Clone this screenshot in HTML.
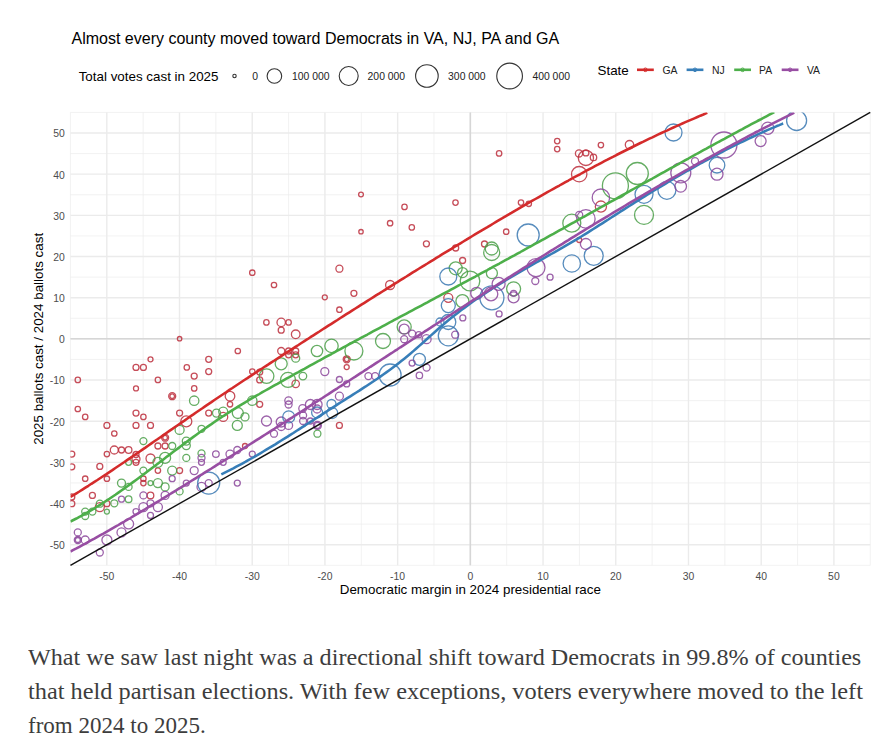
<!DOCTYPE html>
<html><head><meta charset="utf-8"><style>
html,body{margin:0;padding:0;background:#fff;}
body{width:894px;height:750px;overflow:hidden;position:relative;}
svg{position:absolute;left:0;top:0;}
.body{position:absolute;left:28px;top:640px;font-family:"Liberation Serif",serif;color:#3d3d3d;font-size:24px;}
.ln{position:absolute;left:0;white-space:nowrap;transform-origin:0 0;}
</style></head><body>
<svg width="894" height="620" viewBox="0 0 894 620" font-family="Liberation Sans, sans-serif">
<defs><clipPath id="pc"><rect x="70.45" y="112.42" width="799.81" height="452.87"/></clipPath></defs><rect width="894" height="620" fill="#fff"/>
<g><line x1="70.45" y1="112.42" x2="70.45" y2="565.29" stroke="#EDEDED" stroke-width="0.7"/><line x1="70.45" y1="565.29" x2="870.25" y2="565.29" stroke="#EDEDED" stroke-width="0.7"/><line x1="143.16" y1="112.42" x2="143.16" y2="565.29" stroke="#EDEDED" stroke-width="0.7"/><line x1="70.45" y1="524.12" x2="870.25" y2="524.12" stroke="#EDEDED" stroke-width="0.7"/><line x1="215.87" y1="112.42" x2="215.87" y2="565.29" stroke="#EDEDED" stroke-width="0.7"/><line x1="70.45" y1="482.95" x2="870.25" y2="482.95" stroke="#EDEDED" stroke-width="0.7"/><line x1="288.58" y1="112.42" x2="288.58" y2="565.29" stroke="#EDEDED" stroke-width="0.7"/><line x1="70.45" y1="441.78" x2="870.25" y2="441.78" stroke="#EDEDED" stroke-width="0.7"/><line x1="361.29" y1="112.42" x2="361.29" y2="565.29" stroke="#EDEDED" stroke-width="0.7"/><line x1="70.45" y1="400.61" x2="870.25" y2="400.61" stroke="#EDEDED" stroke-width="0.7"/><line x1="434.00" y1="112.42" x2="434.00" y2="565.29" stroke="#EDEDED" stroke-width="0.7"/><line x1="70.45" y1="359.44" x2="870.25" y2="359.44" stroke="#EDEDED" stroke-width="0.7"/><line x1="506.71" y1="112.42" x2="506.71" y2="565.29" stroke="#EDEDED" stroke-width="0.7"/><line x1="70.45" y1="318.27" x2="870.25" y2="318.27" stroke="#EDEDED" stroke-width="0.7"/><line x1="579.41" y1="112.42" x2="579.41" y2="565.29" stroke="#EDEDED" stroke-width="0.7"/><line x1="70.45" y1="277.10" x2="870.25" y2="277.10" stroke="#EDEDED" stroke-width="0.7"/><line x1="652.12" y1="112.42" x2="652.12" y2="565.29" stroke="#EDEDED" stroke-width="0.7"/><line x1="70.45" y1="235.93" x2="870.25" y2="235.93" stroke="#EDEDED" stroke-width="0.7"/><line x1="724.84" y1="112.42" x2="724.84" y2="565.29" stroke="#EDEDED" stroke-width="0.7"/><line x1="70.45" y1="194.76" x2="870.25" y2="194.76" stroke="#EDEDED" stroke-width="0.7"/><line x1="797.55" y1="112.42" x2="797.55" y2="565.29" stroke="#EDEDED" stroke-width="0.7"/><line x1="70.45" y1="153.59" x2="870.25" y2="153.59" stroke="#EDEDED" stroke-width="0.7"/><line x1="870.25" y1="112.42" x2="870.25" y2="565.29" stroke="#EDEDED" stroke-width="0.7"/><line x1="70.45" y1="112.42" x2="870.25" y2="112.42" stroke="#EDEDED" stroke-width="0.7"/><line x1="106.80" y1="112.42" x2="106.80" y2="565.29" stroke="#EBEBEB" stroke-width="1.4"/><line x1="70.45" y1="544.70" x2="870.25" y2="544.70" stroke="#EBEBEB" stroke-width="1.4"/><line x1="179.51" y1="112.42" x2="179.51" y2="565.29" stroke="#EBEBEB" stroke-width="1.4"/><line x1="70.45" y1="503.53" x2="870.25" y2="503.53" stroke="#EBEBEB" stroke-width="1.4"/><line x1="252.22" y1="112.42" x2="252.22" y2="565.29" stroke="#EBEBEB" stroke-width="1.4"/><line x1="70.45" y1="462.36" x2="870.25" y2="462.36" stroke="#EBEBEB" stroke-width="1.4"/><line x1="324.93" y1="112.42" x2="324.93" y2="565.29" stroke="#EBEBEB" stroke-width="1.4"/><line x1="70.45" y1="421.19" x2="870.25" y2="421.19" stroke="#EBEBEB" stroke-width="1.4"/><line x1="397.64" y1="112.42" x2="397.64" y2="565.29" stroke="#EBEBEB" stroke-width="1.4"/><line x1="70.45" y1="380.02" x2="870.25" y2="380.02" stroke="#EBEBEB" stroke-width="1.4"/><line x1="470.35" y1="112.42" x2="470.35" y2="565.29" stroke="#EBEBEB" stroke-width="1.4"/><line x1="70.45" y1="338.85" x2="870.25" y2="338.85" stroke="#EBEBEB" stroke-width="1.4"/><line x1="543.06" y1="112.42" x2="543.06" y2="565.29" stroke="#EBEBEB" stroke-width="1.4"/><line x1="70.45" y1="297.68" x2="870.25" y2="297.68" stroke="#EBEBEB" stroke-width="1.4"/><line x1="615.77" y1="112.42" x2="615.77" y2="565.29" stroke="#EBEBEB" stroke-width="1.4"/><line x1="70.45" y1="256.51" x2="870.25" y2="256.51" stroke="#EBEBEB" stroke-width="1.4"/><line x1="688.48" y1="112.42" x2="688.48" y2="565.29" stroke="#EBEBEB" stroke-width="1.4"/><line x1="70.45" y1="215.34" x2="870.25" y2="215.34" stroke="#EBEBEB" stroke-width="1.4"/><line x1="761.19" y1="112.42" x2="761.19" y2="565.29" stroke="#EBEBEB" stroke-width="1.4"/><line x1="70.45" y1="174.17" x2="870.25" y2="174.17" stroke="#EBEBEB" stroke-width="1.4"/><line x1="833.90" y1="112.42" x2="833.90" y2="565.29" stroke="#EBEBEB" stroke-width="1.4"/><line x1="70.45" y1="133.00" x2="870.25" y2="133.00" stroke="#EBEBEB" stroke-width="1.4"/><line x1="470.35" y1="112.42" x2="470.35" y2="565.29" stroke="#D6D6D6" stroke-width="1.5"/><line x1="70.45" y1="338.85" x2="870.25" y2="338.85" stroke="#D6D6D6" stroke-width="1.5"/><g clip-path="url(#pc)" fill="none" stroke-opacity="0.85" stroke-width="1.3"><circle cx="361.0" cy="194.5" r="2.4" stroke="#BC2E3C"/><circle cx="404.5" cy="206.9" r="2.7" stroke="#BC2E3C"/><circle cx="455.5" cy="202.6" r="2.7" stroke="#BC2E3C"/><circle cx="390.1" cy="223.2" r="2.7" stroke="#BC2E3C"/><circle cx="411.8" cy="227.4" r="2.7" stroke="#BC2E3C"/><circle cx="361.0" cy="231.7" r="2.2" stroke="#BC2E3C"/><circle cx="426.4" cy="243.8" r="3" stroke="#BC2E3C"/><circle cx="455.7" cy="248.0" r="3" stroke="#BC2E3C"/><circle cx="462.6" cy="260.5" r="3" stroke="#BC2E3C"/><circle cx="499.1" cy="153.4" r="2.7" stroke="#BC2E3C"/><circle cx="557.2" cy="141.1" r="2.7" stroke="#BC2E3C"/><circle cx="557.2" cy="149.1" r="2.7" stroke="#BC2E3C"/><circle cx="600.9" cy="145.1" r="2.7" stroke="#BC2E3C"/><circle cx="629.5" cy="144.7" r="4.2" stroke="#BC2E3C"/><circle cx="579.0" cy="153.4" r="3.6" stroke="#BC2E3C"/><circle cx="585.9" cy="152.9" r="3" stroke="#BC2E3C"/><circle cx="585.9" cy="157.9" r="7.6" stroke="#BC2E3C"/><circle cx="593.5" cy="157.4" r="3.2" stroke="#BC2E3C"/><circle cx="579.2" cy="174.2" r="7.7" stroke="#BC2E3C"/><circle cx="521.0" cy="202.6" r="2.7" stroke="#BC2E3C"/><circle cx="528.8" cy="203.8" r="2.7" stroke="#BC2E3C"/><circle cx="506.2" cy="231.7" r="2.7" stroke="#BC2E3C"/><circle cx="484.5" cy="244.0" r="3" stroke="#BC2E3C"/><circle cx="600.9" cy="206.6" r="5.6" stroke="#BC2E3C"/><circle cx="579.2" cy="240.0" r="2.5" stroke="#BC2E3C"/><circle cx="615.4" cy="185.8" r="13" stroke="#4A9F48"/><circle cx="637.3" cy="173.5" r="11" stroke="#4A9F48"/><circle cx="571.8" cy="223.2" r="9" stroke="#4A9F48"/><circle cx="644.0" cy="214.9" r="9.5" stroke="#4A9F48"/><circle cx="491.7" cy="248.5" r="6.5" stroke="#4A9F48"/><circle cx="491.7" cy="252.5" r="8" stroke="#4A9F48"/><circle cx="528.2" cy="235.0" r="11" stroke="#3A78B2"/><circle cx="644.0" cy="194.3" r="9" stroke="#3A78B2"/><circle cx="666.9" cy="190.3" r="9" stroke="#3A78B2"/><circle cx="593.7" cy="255.8" r="9.5" stroke="#3A78B2"/><circle cx="571.8" cy="263.5" r="8.7" stroke="#3A78B2"/><circle cx="673.5" cy="132.5" r="8.5" stroke="#3A78B2"/><circle cx="600.9" cy="197.7" r="8.7" stroke="#8B479B"/><circle cx="585.9" cy="218.9" r="9.2" stroke="#8B479B"/><circle cx="579.2" cy="214.9" r="3.5" stroke="#8B479B"/><circle cx="585.9" cy="244.0" r="5.5" stroke="#8B479B"/><circle cx="536.0" cy="267.6" r="9" stroke="#8B479B"/><circle cx="796.6" cy="120.5" r="10" stroke="#3A78B2"/><circle cx="717.0" cy="165.2" r="7.8" stroke="#3A78B2"/><circle cx="723.9" cy="145.0" r="13" stroke="#8B479B"/><circle cx="767.8" cy="128.2" r="6.1" stroke="#8B479B"/><circle cx="760.6" cy="141.1" r="5.5" stroke="#8B479B"/><circle cx="695.0" cy="161.2" r="3.5" stroke="#8B479B"/><circle cx="680.8" cy="172.8" r="10" stroke="#8B479B"/><circle cx="680.7" cy="186.3" r="5.8" stroke="#8B479B"/><circle cx="717.0" cy="174.2" r="6" stroke="#8B479B"/><circle cx="252.3" cy="272.7" r="2.7" stroke="#BC2E3C"/><circle cx="266.4" cy="322.4" r="2.7" stroke="#BC2E3C"/><circle cx="179.6" cy="338.7" r="2.2" stroke="#BC2E3C"/><circle cx="237.8" cy="351.0" r="2.7" stroke="#BC2E3C"/><circle cx="150.5" cy="359.3" r="2.5" stroke="#BC2E3C"/><circle cx="208.7" cy="359.3" r="3" stroke="#BC2E3C"/><circle cx="136.0" cy="367.4" r="3" stroke="#BC2E3C"/><circle cx="143.4" cy="367.4" r="3" stroke="#BC2E3C"/><circle cx="186.8" cy="367.4" r="2.7" stroke="#BC2E3C"/><circle cx="208.7" cy="371.6" r="3" stroke="#BC2E3C"/><circle cx="77.8" cy="379.9" r="2.7" stroke="#BC2E3C"/><circle cx="157.9" cy="379.9" r="2.7" stroke="#BC2E3C"/><circle cx="194.2" cy="376.1" r="3" stroke="#BC2E3C"/><circle cx="136.0" cy="388.4" r="2.5" stroke="#BC2E3C"/><circle cx="194.2" cy="388.4" r="2.7" stroke="#BC2E3C"/><circle cx="172.2" cy="396.2" r="3.5" stroke="#BC2E3C"/><circle cx="172.2" cy="396.2" r="2.3" stroke="#BC2E3C"/><circle cx="77.8" cy="409.0" r="2.7" stroke="#BC2E3C"/><circle cx="230.0" cy="396.2" r="4.8" stroke="#BC2E3C"/><circle cx="230.0" cy="404.3" r="2.7" stroke="#BC2E3C"/><circle cx="252.3" cy="371.6" r="2.7" stroke="#BC2E3C"/><circle cx="259.7" cy="372.1" r="3" stroke="#BC2E3C"/><circle cx="259.7" cy="379.9" r="3" stroke="#BC2E3C"/><circle cx="259.7" cy="404.3" r="3" stroke="#BC2E3C"/><circle cx="194.2" cy="400.7" r="4.7" stroke="#4A9F48"/><circle cx="252.3" cy="400.7" r="4.7" stroke="#4A9F48"/><circle cx="266.6" cy="376.1" r="7.3" stroke="#4A9F48"/><circle cx="339.4" cy="268.7" r="3.5" stroke="#BC2E3C"/><circle cx="274.0" cy="285.0" r="2.7" stroke="#BC2E3C"/><circle cx="390.1" cy="285.0" r="4.5" stroke="#BC2E3C"/><circle cx="324.8" cy="297.3" r="2.5" stroke="#BC2E3C"/><circle cx="353.9" cy="293.3" r="3" stroke="#BC2E3C"/><circle cx="339.4" cy="309.7" r="2.7" stroke="#BC2E3C"/><circle cx="281.2" cy="322.4" r="4.2" stroke="#BC2E3C"/><circle cx="288.6" cy="322.4" r="2.7" stroke="#BC2E3C"/><circle cx="281.2" cy="330.2" r="3" stroke="#BC2E3C"/><circle cx="295.7" cy="334.3" r="4.3" stroke="#BC2E3C"/><circle cx="281.2" cy="351.0" r="3.5" stroke="#BC2E3C"/><circle cx="288.6" cy="354.8" r="3" stroke="#BC2E3C"/><circle cx="295.7" cy="351.0" r="3" stroke="#BC2E3C"/><circle cx="288.6" cy="351.0" r="3" stroke="#BC2E3C"/><circle cx="295.7" cy="354.8" r="3" stroke="#BC2E3C"/><circle cx="346.7" cy="359.3" r="3.5" stroke="#BC2E3C"/><circle cx="346.7" cy="359.3" r="2.3" stroke="#BC2E3C"/><circle cx="346.7" cy="367.1" r="2.5" stroke="#BC2E3C"/><circle cx="295.7" cy="383.9" r="3.7" stroke="#BC2E3C"/><circle cx="448.3" cy="297.8" r="4.5" stroke="#BC2E3C"/><circle cx="281.2" cy="363.8" r="6" stroke="#4A9F48"/><circle cx="295.7" cy="358.2" r="4" stroke="#4A9F48"/><circle cx="317.0" cy="351.0" r="5.7" stroke="#4A9F48"/><circle cx="331.5" cy="345.9" r="6.7" stroke="#4A9F48"/><circle cx="353.9" cy="351.0" r="9" stroke="#4A9F48"/><circle cx="383.0" cy="341.0" r="7.5" stroke="#4A9F48"/><circle cx="404.2" cy="326.9" r="7" stroke="#4A9F48"/><circle cx="288.0" cy="379.9" r="7.5" stroke="#4A9F48"/><circle cx="302.9" cy="376.1" r="3.8" stroke="#4A9F48"/><circle cx="455.7" cy="268.3" r="6.5" stroke="#4A9F48"/><circle cx="462.6" cy="272.6" r="5" stroke="#4A9F48"/><circle cx="470.0" cy="281.0" r="9.8" stroke="#4A9F48"/><circle cx="462.4" cy="301.1" r="6.5" stroke="#4A9F48"/><circle cx="448.3" cy="276.5" r="8.5" stroke="#3A78B2"/><circle cx="448.3" cy="305.6" r="7" stroke="#3A78B2"/><circle cx="448.3" cy="322.0" r="7.5" stroke="#3A78B2"/><circle cx="448.3" cy="335.8" r="10" stroke="#3A78B2"/><circle cx="440.0" cy="322.0" r="4" stroke="#3A78B2"/><circle cx="419.4" cy="359.3" r="6" stroke="#3A78B2"/><circle cx="390.1" cy="375.0" r="11" stroke="#3A78B2"/><circle cx="331.5" cy="404.0" r="4.5" stroke="#3A78B2"/><circle cx="404.2" cy="329.1" r="5" stroke="#8B479B"/><circle cx="404.2" cy="339.2" r="3.5" stroke="#8B479B"/><circle cx="412.1" cy="333.6" r="3.5" stroke="#8B479B"/><circle cx="418.8" cy="334.7" r="3" stroke="#8B479B"/><circle cx="426.6" cy="339.2" r="4.5" stroke="#8B479B"/><circle cx="455.2" cy="334.7" r="3.5" stroke="#8B479B"/><circle cx="462.8" cy="317.9" r="3" stroke="#8B479B"/><circle cx="412.1" cy="363.1" r="3" stroke="#8B479B"/><circle cx="426.6" cy="367.6" r="3.5" stroke="#8B479B"/><circle cx="419.4" cy="375.4" r="3.2" stroke="#8B479B"/><circle cx="368.4" cy="376.1" r="3.5" stroke="#8B479B"/><circle cx="375.1" cy="376.1" r="3.5" stroke="#8B479B"/><circle cx="324.8" cy="371.6" r="4" stroke="#8B479B"/><circle cx="339.4" cy="379.5" r="3" stroke="#8B479B"/><circle cx="346.7" cy="383.9" r="3" stroke="#8B479B"/><circle cx="339.4" cy="396.2" r="4" stroke="#8B479B"/><circle cx="288.6" cy="400.6" r="3.8" stroke="#8B479B"/><circle cx="288.6" cy="404.5" r="3.5" stroke="#8B479B"/><circle cx="310.4" cy="404.5" r="5" stroke="#8B479B"/><circle cx="302.6" cy="408.5" r="3.8" stroke="#8B479B"/><circle cx="317.1" cy="409.0" r="4" stroke="#8B479B"/><circle cx="317.1" cy="404.5" r="5" stroke="#8B479B"/><circle cx="491.9" cy="297.8" r="12" stroke="#3A78B2"/><circle cx="491.9" cy="273.2" r="5.5" stroke="#4A9F48"/><circle cx="513.6" cy="288.8" r="7" stroke="#4A9F48"/><circle cx="535.3" cy="281.0" r="3.5" stroke="#8B479B"/><circle cx="550.1" cy="277.2" r="3" stroke="#8B479B"/><circle cx="498.6" cy="283.9" r="6.5" stroke="#8B479B"/><circle cx="491.0" cy="294.0" r="6.8" stroke="#8B479B"/><circle cx="513.6" cy="297.3" r="5.5" stroke="#8B479B"/><circle cx="513.6" cy="293.3" r="3" stroke="#8B479B"/><circle cx="499.1" cy="313.9" r="3" stroke="#8B479B"/><circle cx="476.7" cy="293.3" r="6" stroke="#8B479B"/><circle cx="85.2" cy="416.9" r="2.7" stroke="#BC2E3C"/><circle cx="106.9" cy="425.4" r="3" stroke="#BC2E3C"/><circle cx="114.3" cy="433.5" r="2.7" stroke="#BC2E3C"/><circle cx="136.0" cy="425.4" r="3" stroke="#BC2E3C"/><circle cx="150.5" cy="425.4" r="3" stroke="#BC2E3C"/><circle cx="136.0" cy="413.1" r="3" stroke="#BC2E3C"/><circle cx="143.4" cy="416.9" r="2.7" stroke="#BC2E3C"/><circle cx="179.6" cy="413.1" r="3" stroke="#BC2E3C"/><circle cx="208.7" cy="413.1" r="3" stroke="#BC2E3C"/><circle cx="186.3" cy="421.4" r="5.5" stroke="#BC2E3C"/><circle cx="223.2" cy="416.9" r="4.5" stroke="#BC2E3C"/><circle cx="165.1" cy="437.7" r="3.5" stroke="#BC2E3C"/><circle cx="165.1" cy="437.7" r="2.3" stroke="#BC2E3C"/><circle cx="157.9" cy="446.0" r="3" stroke="#BC2E3C"/><circle cx="165.1" cy="446.0" r="3" stroke="#BC2E3C"/><circle cx="106.9" cy="454.1" r="2.7" stroke="#BC2E3C"/><circle cx="114.3" cy="450.0" r="4" stroke="#BC2E3C"/><circle cx="121.5" cy="450.0" r="3" stroke="#BC2E3C"/><circle cx="128.6" cy="450.0" r="3.3" stroke="#BC2E3C"/><circle cx="136.0" cy="454.5" r="3" stroke="#BC2E3C"/><circle cx="136.0" cy="459.0" r="4" stroke="#BC2E3C"/><circle cx="136.0" cy="462.3" r="3" stroke="#BC2E3C"/><circle cx="150.5" cy="458.5" r="4.5" stroke="#BC2E3C"/><circle cx="71.8" cy="454.1" r="3" stroke="#BC2E3C"/><circle cx="71.8" cy="466.8" r="3" stroke="#BC2E3C"/><circle cx="99.8" cy="466.4" r="3" stroke="#BC2E3C"/><circle cx="85.2" cy="478.7" r="2.7" stroke="#BC2E3C"/><circle cx="106.9" cy="478.7" r="2.7" stroke="#BC2E3C"/><circle cx="157.9" cy="470.6" r="2.7" stroke="#BC2E3C"/><circle cx="179.6" cy="470.6" r="3" stroke="#BC2E3C"/><circle cx="143.4" cy="478.7" r="2.7" stroke="#BC2E3C"/><circle cx="143.4" cy="483.1" r="2.7" stroke="#BC2E3C"/><circle cx="92.4" cy="495.4" r="3" stroke="#BC2E3C"/><circle cx="71.8" cy="497.0" r="3" stroke="#BC2E3C"/><circle cx="71.8" cy="503.7" r="3" stroke="#BC2E3C"/><circle cx="106.9" cy="503.7" r="3" stroke="#BC2E3C"/><circle cx="99.8" cy="507.1" r="4.5" stroke="#BC2E3C"/><circle cx="150.5" cy="495.4" r="3.3" stroke="#BC2E3C"/><circle cx="245.0" cy="446.0" r="2.5" stroke="#BC2E3C"/><circle cx="143.4" cy="441.1" r="3.5" stroke="#4A9F48"/><circle cx="172.2" cy="446.0" r="3.5" stroke="#4A9F48"/><circle cx="179.6" cy="429.9" r="4.5" stroke="#4A9F48"/><circle cx="186.3" cy="441.1" r="4" stroke="#4A9F48"/><circle cx="186.3" cy="445.6" r="4" stroke="#4A9F48"/><circle cx="201.5" cy="428.8" r="3.5" stroke="#4A9F48"/><circle cx="216.5" cy="413.1" r="4" stroke="#4A9F48"/><circle cx="223.2" cy="411.6" r="4.5" stroke="#4A9F48"/><circle cx="237.8" cy="413.0" r="5.5" stroke="#4A9F48"/><circle cx="237.3" cy="425.4" r="5" stroke="#4A9F48"/><circle cx="245.0" cy="416.9" r="4" stroke="#4A9F48"/><circle cx="128.6" cy="462.3" r="3" stroke="#4A9F48"/><circle cx="157.9" cy="462.3" r="5" stroke="#4A9F48"/><circle cx="165.1" cy="457.9" r="5.5" stroke="#4A9F48"/><circle cx="143.4" cy="470.6" r="3.5" stroke="#4A9F48"/><circle cx="172.2" cy="470.6" r="4.5" stroke="#4A9F48"/><circle cx="186.3" cy="457.9" r="3.5" stroke="#4A9F48"/><circle cx="201.5" cy="453.4" r="3.5" stroke="#4A9F48"/><circle cx="121.5" cy="483.1" r="4" stroke="#4A9F48"/><circle cx="128.6" cy="486.9" r="3.5" stroke="#4A9F48"/><circle cx="157.9" cy="483.1" r="4.5" stroke="#4A9F48"/><circle cx="165.1" cy="486.9" r="4" stroke="#4A9F48"/><circle cx="150.5" cy="483.1" r="2.5" stroke="#4A9F48"/><circle cx="179.6" cy="491.4" r="3.5" stroke="#4A9F48"/><circle cx="128.6" cy="499.2" r="3.3" stroke="#4A9F48"/><circle cx="114.3" cy="503.3" r="3.5" stroke="#4A9F48"/><circle cx="99.8" cy="503.7" r="3.5" stroke="#4A9F48"/><circle cx="85.2" cy="511.6" r="3.5" stroke="#4A9F48"/><circle cx="85.2" cy="516.0" r="3.5" stroke="#4A9F48"/><circle cx="92.4" cy="511.6" r="3.5" stroke="#4A9F48"/><circle cx="106.9" cy="511.6" r="2.5" stroke="#4A9F48"/><circle cx="266.5" cy="421.0" r="5" stroke="#8B479B"/><circle cx="215.9" cy="454.1" r="3.3" stroke="#8B479B"/><circle cx="230.0" cy="454.1" r="4" stroke="#8B479B"/><circle cx="237.3" cy="450.0" r="3.5" stroke="#8B479B"/><circle cx="252.3" cy="454.1" r="3" stroke="#8B479B"/><circle cx="201.5" cy="457.9" r="3.5" stroke="#8B479B"/><circle cx="201.5" cy="462.3" r="3" stroke="#8B479B"/><circle cx="223.2" cy="462.3" r="3" stroke="#8B479B"/><circle cx="194.2" cy="470.6" r="4" stroke="#8B479B"/><circle cx="172.2" cy="478.7" r="3" stroke="#8B479B"/><circle cx="186.3" cy="483.1" r="3" stroke="#8B479B"/><circle cx="201.5" cy="486.9" r="4.5" stroke="#8B479B"/><circle cx="208.7" cy="483.1" r="3.5" stroke="#8B479B"/><circle cx="237.3" cy="483.1" r="3" stroke="#8B479B"/><circle cx="165.1" cy="495.4" r="4" stroke="#8B479B"/><circle cx="143.4" cy="495.4" r="3.5" stroke="#8B479B"/><circle cx="121.5" cy="499.2" r="3" stroke="#8B479B"/><circle cx="143.4" cy="507.1" r="4.5" stroke="#8B479B"/><circle cx="150.5" cy="503.3" r="3.5" stroke="#8B479B"/><circle cx="157.9" cy="507.1" r="4.5" stroke="#8B479B"/><circle cx="136.0" cy="511.6" r="3" stroke="#8B479B"/><circle cx="150.5" cy="515.4" r="3" stroke="#8B479B"/><circle cx="128.6" cy="523.9" r="5" stroke="#8B479B"/><circle cx="121.5" cy="532.4" r="4.5" stroke="#8B479B"/><circle cx="106.9" cy="540.0" r="5" stroke="#8B479B"/><circle cx="77.8" cy="532.4" r="3.5" stroke="#8B479B"/><circle cx="77.8" cy="540.0" r="3.5" stroke="#8B479B"/><circle cx="77.8" cy="540.0" r="2.5" stroke="#8B479B"/><circle cx="85.2" cy="540.0" r="4" stroke="#8B479B"/><circle cx="99.8" cy="552.5" r="3.5" stroke="#8B479B"/><circle cx="208.7" cy="483.1" r="11" stroke="#3A78B2"/><circle cx="339.4" cy="425.4" r="3" stroke="#BC2E3C"/><circle cx="317.4" cy="433.7" r="3.5" stroke="#4A9F48"/><circle cx="317.4" cy="425.4" r="4" stroke="#8B479B"/><circle cx="317.4" cy="425.4" r="3" stroke="#8B479B"/><circle cx="274.0" cy="433.7" r="3.5" stroke="#8B479B"/><circle cx="281.2" cy="422.0" r="5" stroke="#8B479B"/><circle cx="288.6" cy="425.4" r="4" stroke="#8B479B"/><circle cx="281.2" cy="426.5" r="4" stroke="#8B479B"/><circle cx="288.7" cy="416.9" r="6" stroke="#3A78B2"/><circle cx="303.1" cy="421.0" r="3.5" stroke="#8B479B"/><circle cx="310.3" cy="421.0" r="3" stroke="#8B479B"/><circle cx="332.2" cy="413.0" r="5.5" stroke="#3A78B2"/><circle cx="303.1" cy="415.4" r="3.5" stroke="#8B479B"/><circle cx="317.1" cy="412.5" r="5.5" stroke="#3A78B2"/></g><line x1="70.45" y1="565.29" x2="870.25" y2="112.42" stroke="#111" stroke-width="1.4"/><path d="M70.4,497.0 L73.4,495.2 L76.4,493.3 L79.4,491.5 L82.4,489.6 L85.4,487.7 L88.4,485.8 L91.4,483.8 L94.4,481.9 L97.4,480.0 L100.4,478.0 L103.4,476.0 L106.4,474.1 L109.4,472.1 L112.4,470.1 L115.4,468.0 L118.4,466.0 L121.4,464.0 L124.4,462.0 L127.4,459.9 L130.4,457.9 L133.4,455.8 L136.4,453.8 L139.4,451.7 L142.4,449.6 L145.4,447.6 L148.4,445.5 L151.4,443.4 L154.4,441.3 L157.4,439.3 L160.4,437.2 L163.4,435.1 L166.4,433.0 L169.4,430.9 L172.4,428.9 L175.4,426.8 L178.4,424.7 L181.4,422.6 L184.4,420.6 L187.4,418.5 L190.4,416.4 L193.4,414.4 L196.4,412.3 L199.4,410.2 L202.4,408.2 L205.4,406.1 L208.4,404.1 L211.4,402.1 L214.4,400.0 L217.4,398.0 L220.4,396.0 L223.4,394.0 L226.4,392.0 L229.4,389.9 L232.4,388.0 L235.4,386.0 L238.4,384.0 L241.4,382.0 L244.4,380.0 L247.4,378.1 L250.4,376.1 L253.4,374.1 L256.4,372.2 L259.4,370.2 L262.4,368.3 L265.4,366.3 L268.4,364.4 L271.4,362.4 L274.4,360.5 L277.4,358.5 L280.4,356.6 L283.4,354.6 L286.4,352.7 L289.4,350.8 L292.4,348.8 L295.4,346.9 L298.4,345.0 L301.4,343.0 L304.4,341.1 L307.4,339.2 L310.4,337.2 L313.4,335.3 L316.4,333.4 L319.4,331.5 L322.4,329.5 L325.4,327.6 L328.4,325.7 L331.4,323.8 L334.4,321.9 L337.4,320.0 L340.4,318.0 L343.4,316.1 L346.4,314.2 L349.4,312.3 L352.4,310.4 L355.4,308.5 L358.4,306.6 L361.4,304.7 L364.4,302.8 L367.4,300.9 L370.4,299.0 L373.4,297.1 L376.4,295.2 L379.4,293.4 L382.4,291.5 L385.4,289.6 L388.4,287.7 L391.4,285.8 L394.4,283.9 L397.4,282.1 L400.4,280.2 L403.4,278.3 L406.4,276.5 L409.4,274.6 L412.4,272.7 L415.4,270.9 L418.4,269.0 L421.4,267.2 L424.4,265.3 L427.4,263.5 L430.4,261.6 L433.4,259.8 L436.4,257.9 L439.4,256.1 L442.4,254.2 L445.4,252.4 L448.4,250.6 L451.4,248.8 L454.4,246.9 L457.4,245.1 L460.4,243.3 L463.4,241.5 L466.4,239.7 L469.4,237.8 L472.4,236.0 L475.4,234.2 L478.4,232.4 L481.4,230.6 L484.4,228.8 L487.4,227.1 L490.4,225.3 L493.4,223.5 L496.4,221.7 L499.4,219.9 L502.4,218.2 L505.4,216.4 L508.4,214.6 L511.4,212.9 L514.4,211.1 L517.4,209.4 L520.4,207.6 L523.4,205.9 L526.4,204.2 L529.4,202.4 L532.4,200.7 L535.4,199.0 L538.4,197.3 L541.4,195.6 L544.4,193.9 L547.4,192.2 L550.4,190.5 L553.4,188.8 L556.4,187.1 L559.4,185.5 L562.4,183.8 L565.4,182.1 L568.4,180.5 L571.4,178.8 L574.4,177.2 L577.4,175.6 L580.4,174.0 L583.4,172.3 L586.4,170.7 L589.4,169.1 L592.4,167.5 L595.4,165.9 L598.4,164.4 L601.4,162.8 L604.4,161.2 L607.4,159.7 L610.4,158.1 L613.4,156.6 L616.4,155.0 L619.4,153.5 L622.4,152.0 L625.4,150.5 L628.4,149.0 L631.4,147.5 L634.4,146.0 L637.4,144.5 L640.4,143.0 L643.4,141.6 L646.4,140.1 L649.4,138.7 L652.4,137.3 L655.4,135.8 L658.4,134.4 L661.4,133.0 L664.4,131.6 L667.4,130.3 L670.4,128.9 L673.4,127.5 L676.4,126.2 L679.4,124.8 L682.4,123.5 L685.4,122.2 L688.4,120.9 L691.4,119.6 L694.4,118.3 L697.4,117.0 L700.4,115.7 L703.4,114.5 L706.4,113.2 L707.3,112.8" fill="none" stroke="#D42B2B" stroke-width="2.55" stroke-linecap="butt" stroke-linejoin="round" clip-path="url(#pc)"/><path d="M70.4,521.5 L73.4,520.0 L76.4,518.5 L79.4,516.9 L82.4,515.3 L85.4,513.6 L88.4,511.9 L91.4,510.1 L94.4,508.3 L97.4,506.5 L100.4,504.6 L103.4,502.7 L106.4,500.7 L109.4,498.8 L112.4,496.7 L115.4,494.7 L118.4,492.6 L121.4,490.5 L124.4,488.4 L127.4,486.3 L130.4,484.1 L133.4,481.9 L136.4,479.7 L139.4,477.5 L142.4,475.3 L145.4,473.0 L148.4,470.8 L151.4,468.5 L154.4,466.2 L157.4,464.0 L160.4,461.7 L163.4,459.4 L166.4,457.1 L169.4,454.9 L172.4,452.6 L175.4,450.3 L178.4,448.1 L181.4,445.8 L184.4,443.6 L187.4,441.3 L190.4,439.1 L193.4,436.9 L196.4,434.7 L199.4,432.5 L202.4,430.4 L205.4,428.3 L208.4,426.1 L211.4,424.1 L214.4,422.0 L217.4,419.9 L220.4,417.9 L223.4,416.0 L226.4,414.0 L229.4,412.1 L232.4,410.2 L235.4,408.3 L238.4,406.4 L241.4,404.6 L244.4,402.8 L247.4,401.0 L250.4,399.2 L253.4,397.4 L256.4,395.7 L259.4,394.0 L262.4,392.2 L265.4,390.5 L268.4,388.8 L271.4,387.1 L274.4,385.4 L277.4,383.8 L280.4,382.1 L283.4,380.4 L286.4,378.7 L289.4,377.1 L292.4,375.4 L295.4,373.7 L298.4,372.1 L301.4,370.4 L304.4,368.8 L307.4,367.1 L310.4,365.4 L313.4,363.8 L316.4,362.2 L319.4,360.5 L322.4,358.9 L325.4,357.2 L328.4,355.6 L331.4,354.0 L334.4,352.3 L337.4,350.7 L340.4,349.1 L343.4,347.4 L346.4,345.8 L349.4,344.2 L352.4,342.6 L355.4,340.9 L358.4,339.3 L361.4,337.7 L364.4,336.1 L367.4,334.5 L370.4,332.8 L373.4,331.2 L376.4,329.6 L379.4,328.0 L382.4,326.4 L385.4,324.8 L388.4,323.2 L391.4,321.5 L394.4,319.9 L397.4,318.3 L400.4,316.7 L403.4,315.1 L406.4,313.5 L409.4,311.9 L412.4,310.3 L415.4,308.7 L418.4,307.1 L421.4,305.5 L424.4,303.9 L427.4,302.3 L430.4,300.6 L433.4,299.0 L436.4,297.4 L439.4,295.8 L442.4,294.2 L445.4,292.6 L448.4,291.0 L451.4,289.4 L454.4,287.8 L457.4,286.2 L460.4,284.5 L463.4,282.9 L466.4,281.3 L469.4,279.7 L472.4,278.1 L475.4,276.5 L478.4,274.8 L481.4,273.2 L484.4,271.6 L487.4,270.0 L490.4,268.3 L493.4,266.7 L496.4,265.1 L499.4,263.5 L502.4,261.8 L505.4,260.2 L508.4,258.6 L511.4,256.9 L514.4,255.3 L517.4,253.6 L520.4,252.0 L523.4,250.3 L526.4,248.7 L529.4,247.0 L532.4,245.4 L535.4,243.7 L538.4,242.1 L541.4,240.4 L544.4,238.8 L547.4,237.1 L550.4,235.4 L553.4,233.8 L556.4,232.1 L559.4,230.4 L562.4,228.8 L565.4,227.1 L568.4,225.4 L571.4,223.7 L574.4,222.1 L577.4,220.4 L580.4,218.7 L583.4,217.0 L586.4,215.4 L589.4,213.7 L592.4,212.0 L595.4,210.3 L598.4,208.7 L601.4,207.0 L604.4,205.3 L607.4,203.6 L610.4,201.9 L613.4,200.3 L616.4,198.6 L619.4,196.9 L622.4,195.2 L625.4,193.5 L628.4,191.9 L631.4,190.2 L634.4,188.5 L637.4,186.8 L640.4,185.2 L643.4,183.5 L646.4,181.8 L649.4,180.1 L652.4,178.5 L655.4,176.8 L658.4,175.1 L661.4,173.4 L664.4,171.8 L667.4,170.1 L670.4,168.4 L673.4,166.8 L676.4,165.1 L679.4,163.5 L682.4,161.8 L685.4,160.1 L688.4,158.5 L691.4,156.8 L694.4,155.2 L697.4,153.5 L700.4,151.9 L703.4,150.2 L706.4,148.6 L709.4,146.9 L712.4,145.3 L715.4,143.7 L718.4,142.0 L721.4,140.4 L724.4,138.8 L727.4,137.1 L730.4,135.5 L733.4,133.9 L736.4,132.3 L739.4,130.7 L742.4,129.1 L745.4,127.4 L748.4,125.8 L751.4,124.2 L754.4,122.6 L757.4,121.0 L760.4,119.5 L763.4,117.9 L766.4,116.3 L769.4,114.7 L772.4,113.1 L774.3,112.1" fill="none" stroke="#4DAF4A" stroke-width="2.55" stroke-linecap="butt" stroke-linejoin="round" clip-path="url(#pc)"/><path d="M221.3,474.3 L224.3,472.8 L227.3,471.3 L230.3,469.8 L233.3,468.3 L236.3,466.7 L239.3,465.1 L242.3,463.5 L245.3,461.9 L248.3,460.2 L251.3,458.5 L254.3,456.8 L257.3,455.1 L260.3,453.3 L263.3,451.5 L266.3,449.7 L269.3,447.9 L272.3,446.1 L275.3,444.3 L278.3,442.4 L281.3,440.5 L284.3,438.7 L287.3,436.8 L290.3,434.9 L293.3,433.0 L296.3,431.0 L299.3,429.1 L302.3,427.2 L305.3,425.3 L308.3,423.3 L311.3,421.4 L314.3,419.4 L317.3,417.5 L320.3,415.6 L323.3,413.6 L326.3,411.7 L329.3,409.7 L332.3,407.8 L335.3,405.9 L338.3,403.9 L341.3,402.0 L344.3,400.1 L347.3,398.2 L350.3,396.3 L353.3,394.4 L356.3,392.5 L359.3,390.6 L362.3,388.6 L365.3,386.7 L368.3,384.7 L371.3,382.7 L374.3,380.7 L377.3,378.7 L380.3,376.6 L383.3,374.5 L386.3,372.4 L389.3,370.2 L392.3,368.0 L395.3,365.8 L398.3,363.4 L401.3,361.1 L404.3,358.7 L407.3,356.2 L410.3,353.7 L413.3,351.1 L416.3,348.5 L419.3,345.9 L422.3,343.2 L425.3,340.5 L428.3,337.8 L431.3,335.1 L434.3,332.5 L437.3,329.8 L440.3,327.2 L443.3,324.6 L446.3,322.1 L449.3,319.6 L452.3,317.1 L455.3,314.8 L458.3,312.4 L461.3,310.1 L464.3,307.9 L467.3,305.7 L470.3,303.5 L473.3,301.3 L476.3,299.2 L479.3,297.2 L482.3,295.2 L485.3,293.2 L488.3,291.2 L491.3,289.3 L494.3,287.3 L497.3,285.5 L500.3,283.6 L503.3,281.8 L506.3,279.9 L509.3,278.1 L512.3,276.4 L515.3,274.6 L518.3,272.8 L521.3,271.1 L524.3,269.4 L527.3,267.6 L530.3,265.9 L533.3,264.2 L536.3,262.5 L539.3,260.8 L542.3,259.1 L545.3,257.4 L548.3,255.7 L551.3,254.0 L554.3,252.3 L557.3,250.6 L560.3,248.9 L563.3,247.2 L566.3,245.4 L569.3,243.7 L572.3,241.9 L575.3,240.1 L578.3,238.3 L581.3,236.5 L584.3,234.7 L587.3,232.8 L590.3,230.9 L593.3,229.0 L596.3,227.1 L599.3,225.2 L602.3,223.3 L605.3,221.4 L608.3,219.5 L611.3,217.5 L614.3,215.6 L617.3,213.7 L620.3,211.7 L623.3,209.8 L626.3,207.9 L629.3,206.0 L632.3,204.1 L635.3,202.2 L638.3,200.3 L641.3,198.4 L644.3,196.6 L647.3,194.7 L650.3,192.9 L653.3,191.0 L656.3,189.2 L659.3,187.4 L662.3,185.6 L665.3,183.8 L668.3,182.0 L671.3,180.2 L674.3,178.4 L677.3,176.7 L680.3,174.9 L683.3,173.2 L686.3,171.5 L689.3,169.8 L692.3,168.1 L695.3,166.4 L698.3,164.7 L701.3,163.0 L704.3,161.4 L707.3,159.8 L710.3,158.1 L713.3,156.5 L716.3,154.9 L719.3,153.4 L722.3,151.8 L725.3,150.2 L728.3,148.7 L731.3,147.2 L734.3,145.7 L737.3,144.2 L740.3,142.7 L743.3,141.3 L746.3,139.8 L749.3,138.4 L752.3,137.0 L755.3,135.6 L758.3,134.2 L761.3,132.9 L764.3,131.5 L767.3,130.2 L770.3,128.9 L773.3,127.6 L776.3,126.3 L779.3,125.1 L782.3,123.8 L783.2,123.5" fill="none" stroke="#377EB8" stroke-width="2.55" stroke-linecap="butt" stroke-linejoin="round" clip-path="url(#pc)"/><path d="M70.4,551.5 L73.4,549.9 L76.4,548.4 L79.4,546.8 L82.4,545.1 L85.4,543.5 L88.4,541.9 L91.4,540.2 L94.4,538.6 L97.4,536.9 L100.4,535.2 L103.4,533.6 L106.4,531.9 L109.4,530.2 L112.4,528.4 L115.4,526.7 L118.4,525.0 L121.4,523.2 L124.4,521.5 L127.4,519.7 L130.4,518.0 L133.4,516.2 L136.4,514.4 L139.4,512.6 L142.4,510.8 L145.4,509.0 L148.4,507.2 L151.4,505.4 L154.4,503.6 L157.4,501.8 L160.4,500.0 L163.4,498.1 L166.4,496.3 L169.4,494.5 L172.4,492.6 L175.4,490.8 L178.4,489.0 L181.4,487.1 L184.4,485.3 L187.4,483.4 L190.4,481.5 L193.4,479.7 L196.4,477.8 L199.4,475.9 L202.4,474.1 L205.4,472.2 L208.4,470.3 L211.4,468.5 L214.4,466.6 L217.4,464.7 L220.4,462.8 L223.4,461.0 L226.4,459.1 L229.4,457.2 L232.4,455.3 L235.4,453.4 L238.4,451.5 L241.4,449.6 L244.4,447.8 L247.4,445.9 L250.4,444.0 L253.4,442.1 L256.4,440.2 L259.4,438.3 L262.4,436.4 L265.4,434.5 L268.4,432.6 L271.4,430.7 L274.4,428.8 L277.4,426.8 L280.4,424.9 L283.4,423.0 L286.4,421.1 L289.4,419.2 L292.4,417.3 L295.4,415.3 L298.4,413.4 L301.4,411.5 L304.4,409.6 L307.4,407.6 L310.4,405.7 L313.4,403.8 L316.4,401.8 L319.4,399.9 L322.4,398.0 L325.4,396.0 L328.4,394.1 L331.4,392.1 L334.4,390.2 L337.4,388.3 L340.4,386.3 L343.4,384.4 L346.4,382.4 L349.4,380.5 L352.4,378.5 L355.4,376.6 L358.4,374.6 L361.4,372.7 L364.4,370.7 L367.4,368.8 L370.4,366.8 L373.4,364.9 L376.4,362.9 L379.4,361.0 L382.4,359.0 L385.4,357.1 L388.4,355.1 L391.4,353.2 L394.4,351.2 L397.4,349.3 L400.4,347.3 L403.4,345.4 L406.4,343.4 L409.4,341.5 L412.4,339.5 L415.4,337.6 L418.4,335.6 L421.4,333.7 L424.4,331.7 L427.4,329.8 L430.4,327.9 L433.4,325.9 L436.4,324.0 L439.4,322.0 L442.4,320.1 L445.4,318.1 L448.4,316.2 L451.4,314.3 L454.4,312.3 L457.4,310.4 L460.4,308.4 L463.4,306.5 L466.4,304.6 L469.4,302.6 L472.4,300.7 L475.4,298.8 L478.4,296.9 L481.4,294.9 L484.4,293.0 L487.4,291.1 L490.4,289.2 L493.4,287.3 L496.4,285.3 L499.4,283.4 L502.4,281.5 L505.4,279.6 L508.4,277.7 L511.4,275.8 L514.4,273.9 L517.4,272.0 L520.4,270.1 L523.4,268.2 L526.4,266.3 L529.4,264.4 L532.4,262.5 L535.4,260.6 L538.4,258.7 L541.4,256.9 L544.4,255.0 L547.4,253.1 L550.4,251.2 L553.4,249.4 L556.4,247.5 L559.4,245.6 L562.4,243.8 L565.4,241.9 L568.4,240.1 L571.4,238.2 L574.4,236.4 L577.4,234.5 L580.4,232.7 L583.4,230.8 L586.4,229.0 L589.4,227.2 L592.4,225.4 L595.4,223.5 L598.4,221.7 L601.4,219.9 L604.4,218.1 L607.4,216.3 L610.4,214.5 L613.4,212.7 L616.4,210.9 L619.4,209.1 L622.4,207.3 L625.4,205.5 L628.4,203.7 L631.4,201.9 L634.4,200.2 L637.4,198.4 L640.4,196.6 L643.4,194.9 L646.4,193.1 L649.4,191.3 L652.4,189.6 L655.4,187.8 L658.4,186.1 L661.4,184.4 L664.4,182.6 L667.4,180.9 L670.4,179.2 L673.4,177.5 L676.4,175.8 L679.4,174.1 L682.4,172.4 L685.4,170.7 L688.4,169.0 L691.4,167.3 L694.4,165.6 L697.4,163.9 L700.4,162.2 L703.4,160.6 L706.4,158.9 L709.4,157.3 L712.4,155.6 L715.4,154.0 L718.4,152.3 L721.4,150.7 L724.4,149.0 L727.4,147.4 L730.4,145.8 L733.4,144.2 L736.4,142.6 L739.4,141.0 L742.4,139.4 L745.4,137.8 L748.4,136.2 L751.4,134.6 L754.4,133.0 L757.4,131.5 L760.4,129.9 L763.4,128.4 L766.4,126.8 L769.4,125.3 L772.4,123.7 L775.4,122.2 L778.4,120.7 L781.4,119.2 L784.4,117.6 L787.4,116.1 L790.4,114.6 L793.4,113.1 L794.3,112.7" fill="none" stroke="#984EA3" stroke-width="2.55" stroke-linecap="butt" stroke-linejoin="round" clip-path="url(#pc)"/></g>
<g font-size="10.4" fill="#4D4D4D"><text x="106.80" y="579.6" text-anchor="middle">-50</text><text x="179.51" y="579.6" text-anchor="middle">-40</text><text x="252.22" y="579.6" text-anchor="middle">-30</text><text x="324.93" y="579.6" text-anchor="middle">-20</text><text x="397.64" y="579.6" text-anchor="middle">-10</text><text x="470.35" y="579.6" text-anchor="middle">0</text><text x="543.06" y="579.6" text-anchor="middle">10</text><text x="615.77" y="579.6" text-anchor="middle">20</text><text x="688.48" y="579.6" text-anchor="middle">30</text><text x="761.19" y="579.6" text-anchor="middle">40</text><text x="833.90" y="579.6" text-anchor="middle">50</text><text x="64.8" y="549.10" text-anchor="end">-50</text><text x="64.8" y="507.93" text-anchor="end">-40</text><text x="64.8" y="466.76" text-anchor="end">-30</text><text x="64.8" y="425.59" text-anchor="end">-20</text><text x="64.8" y="384.42" text-anchor="end">-10</text><text x="64.8" y="343.25" text-anchor="end">0</text><text x="64.8" y="302.08" text-anchor="end">10</text><text x="64.8" y="260.91" text-anchor="end">20</text><text x="64.8" y="219.74" text-anchor="end">30</text><text x="64.8" y="178.57" text-anchor="end">40</text><text x="64.8" y="137.40" text-anchor="end">50</text></g>
<text x="71.5" y="43.6" font-size="16" fill="#000">Almost every county moved toward Democrats in VA, NJ, PA and GA</text>
<text x="78.7" y="81.3" font-size="13.38" fill="#000">Total votes cast in 2025</text>
<text x="470.35" y="594.2" font-size="13.35" fill="#000" text-anchor="middle">Democratic margin in 2024 presidential race</text>
<text transform="translate(42.6,338.85) rotate(-90)" font-size="13.38" fill="#000" text-anchor="middle">2025 ballots cast / 2024 ballots cast</text>
<circle cx="234.5" cy="76" r="1.7" fill="none" stroke="#333" stroke-width="1.1"/><text x="252.2" y="79.8" font-size="10.4" fill="#222">0</text><circle cx="274.4" cy="76" r="7.3" fill="none" stroke="#333" stroke-width="1.1"/><text x="292" y="79.8" font-size="10.4" fill="#222">100 000</text><circle cx="348.7" cy="76" r="9.5" fill="none" stroke="#333" stroke-width="1.1"/><text x="367.6" y="79.8" font-size="10.4" fill="#222">200 000</text><circle cx="426.9" cy="76" r="11.3" fill="none" stroke="#333" stroke-width="1.1"/><text x="448.1" y="79.8" font-size="10.4" fill="#222">300 000</text><circle cx="509.6" cy="76" r="12.85" fill="none" stroke="#333" stroke-width="1.1"/><text x="532.4" y="79.8" font-size="10.4" fill="#222">400 000</text><text x="597.5" y="75.1" font-size="13.4" fill="#000">State</text><line x1="637" y1="69.8" x2="653.8" y2="69.8" stroke="#D42B2B" stroke-width="2.6"/><circle cx="645.4" cy="69.8" r="1.8" fill="none" stroke="#D42B2B" stroke-width="1"/><text x="662.5" y="74.2" font-size="10.4" fill="#222">GA</text><line x1="686.6" y1="69.8" x2="703.4" y2="69.8" stroke="#377EB8" stroke-width="2.6"/><circle cx="695.0" cy="69.8" r="1.8" fill="none" stroke="#377EB8" stroke-width="1"/><text x="712.1" y="74.2" font-size="10.4" fill="#222">NJ</text><line x1="734.2" y1="69.8" x2="751.0" y2="69.8" stroke="#4DAF4A" stroke-width="2.6"/><circle cx="742.6" cy="69.8" r="1.8" fill="none" stroke="#4DAF4A" stroke-width="1"/><text x="759.1" y="74.2" font-size="10.4" fill="#222">PA</text><line x1="781.7" y1="69.8" x2="798.5" y2="69.8" stroke="#984EA3" stroke-width="2.6"/><circle cx="790.1" cy="69.8" r="1.8" fill="none" stroke="#984EA3" stroke-width="1"/><text x="806.9" y="74.2" font-size="10.4" fill="#222">VA</text>
</svg>
<div class="body">
<div class="ln" style="top:3.5px;transform:scaleX(1.0058)">What we saw last night was a directional shift toward Democrats in 99.8% of counties</div>
<div class="ln" style="top:37.7px;transform:scaleX(1.0137)">that held partisan elections. With few exceptions, voters everywhere moved to the left</div>
<div class="ln" style="top:72.4px;transform:scaleX(0.959)">from 2024 to 2025.</div>
</div>
</body></html>
